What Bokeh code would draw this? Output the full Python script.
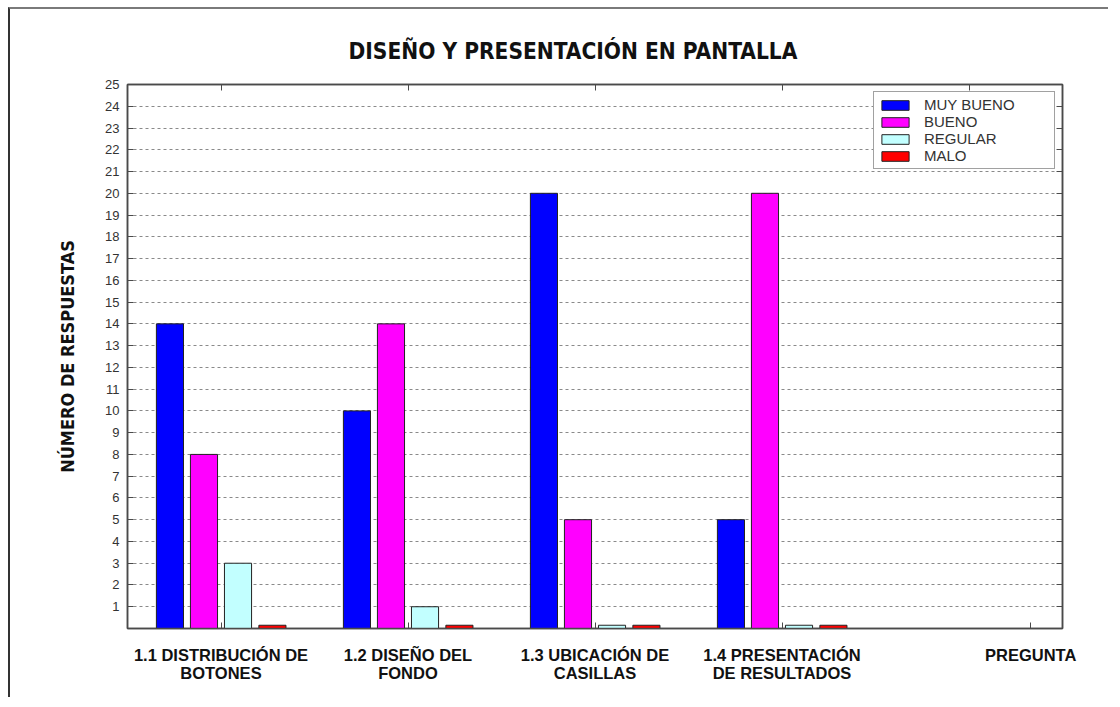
from bokeh.plotting import figure
from bokeh.models import (FixedTicker, LinearAxis, Legend, LegendItem,
                          ColumnDataSource, Range1d)
from bokeh.transform import dodge
from bokeh.embed import file_html
from bokeh.resources import INLINE

# ---- data ----
categories = ["1.1 DISTRIBUCIÓN DE\nBOTONES", "1.2 DISEÑO DEL\nFONDO",
              "1.3 UBICACIÓN DE\nCASILLAS", "1.4 PRESENTACIÓN\nDE RESULTADOS"]
x_axis_name = "PREGUNTA"
positions = [1, 2, 3, 4]
series_names = ["MUY BUENO", "BUENO", "REGULAR", "MALO"]
muy_bueno = [14, 10, 20, 5]
bueno = [8, 14, 5, 20]
regular = [3, 1, 0.15, 0.15]
malo = [0.15, 0.15, 0.15, 0.15]
y_ticks = list(range(1, 26))
x_ticks = [1, 2, 3, 4, 5]

colors = ["#0000FF", "#FF00FF", "#C2FFFF", "#FF0000"]
offsets = [-0.273, -0.091, 0.091, 0.275]

NARROW = "'Liberation Sans Narrow', 'DejaVu Sans Condensed', 'Liberation Sans', sans-serif"
SANS = "'Liberation Sans', Arial, sans-serif"

src = ColumnDataSource(dict(x=positions, muy_bueno=muy_bueno, bueno=bueno,
                            regular=regular, malo=malo))

p = figure(width=1100, height=690, output_backend="svg", toolbar_location=None,
           x_range=Range1d(0.5, 5.5), y_range=Range1d(0, 25),
           min_border_left=117, min_border_right=48, min_border_top=75,
           min_border_bottom=71, x_axis_location="below")
p.styles = {"margin-left": "8px", "margin-top": "7px",
            "border-top": "2px solid #7a7a7a", "border-left": "2px solid #333333"}

p.background_fill_color = "white"
p.border_fill_color = "white"
p.outline_line_color = "#4a4a4a"
p.outline_line_width = 1.5

# title
p.title.text = "DISEÑO Y PRESENTACIÓN EN PANTALLA"
p.title.align = "left"
p.title.offset = 221
p.title.text_font = NARROW
p.title.text_font_style = "bold"
p.title.text_font_size = "22.5px"
p.title.text_color = "#111111"
p.title.standoff = 41

renderers = []
for field, color, off in zip(["muy_bueno", "bueno", "regular", "malo"], colors, offsets):
    r = p.vbar(x=dodge("x", off), top=field, bottom=0, width=0.145, source=src,
               fill_color=color, line_color="#222222", line_width=1)
    renderers.append(r)

legend = Legend(items=[LegendItem(label=n, renderers=[r]) for n, r in zip(series_names, renderers)],
                location="top_right")
legend.margin = 7
legend.padding = 4
legend.spacing = 0
legend.glyph_width = 34
legend.glyph_height = 12
legend.label_height = 16
legend.label_width = 126
legend.label_standoff = 12
legend.label_text_font = SANS
legend.label_text_font_size = "15px"
legend.label_text_color = "#333333"
legend.border_line_color = "#444444"
legend.border_line_width = 1
legend.background_fill_alpha = 1
p.add_layout(legend)

# grid
p.xgrid.visible = False
p.ygrid.ticker = FixedTicker(ticks=y_ticks)
p.ygrid.grid_line_color = "#8a8a8a"
p.ygrid.grid_line_dash = "3 3"
p.ygrid.grid_line_width = 1

def style_axis(ax, labels=True):
    ax.axis_line_color = "#4a4a4a"
    ax.axis_line_width = 1.5
    ax.major_tick_line_color = "#4a4a4a"
    ax.major_tick_in = 6
    ax.major_tick_out = 0
    ax.minor_tick_line_color = None
    if not labels:
        ax.major_label_text_color = None
        ax.major_label_text_font_size = "1px"
        ax.major_label_standoff = 0

# left axis
yl = p.yaxis[0]
yl.ticker = FixedTicker(ticks=y_ticks)
style_axis(yl)
yl.major_label_text_font = SANS
yl.major_label_text_font_size = "13px"
yl.major_label_text_color = "#333333"
yl.major_label_standoff = 8
yl.axis_label = "NÚMERO DE RESPUESTAS"
yl.axis_label_text_font = NARROW
yl.axis_label_text_font_style = "bold"
yl.axis_label_text_font_size = "18px"
yl.axis_label_text_color = "#111111"
yl.axis_label_standoff = 24

# bottom axis (category labels + axis name at the far right)
name_pos = 5.33
xb = p.xaxis[0]
xb.ticker = FixedTicker(ticks=positions + [name_pos])
overrides = {pos: lab for pos, lab in zip(positions, categories)}
overrides[name_pos] = x_axis_name
xb.major_label_overrides = overrides
style_axis(xb)
xb.major_label_text_font = SANS
xb.major_label_text_font_style = "bold"
xb.major_label_text_font_size = "16.5px"
xb.major_label_text_color = "#111111"
xb.major_label_text_line_height = 1.05
xb.major_label_standoff = 17

# mirrored axes (ticks only)
yr = LinearAxis(ticker=FixedTicker(ticks=y_ticks))
style_axis(yr, labels=False)
p.add_layout(yr, "right")
xt = LinearAxis(ticker=FixedTicker(ticks=x_ticks))
style_axis(xt, labels=False)
p.add_layout(xt, "above")

open("out.html", "w").write(file_html(p, INLINE))
